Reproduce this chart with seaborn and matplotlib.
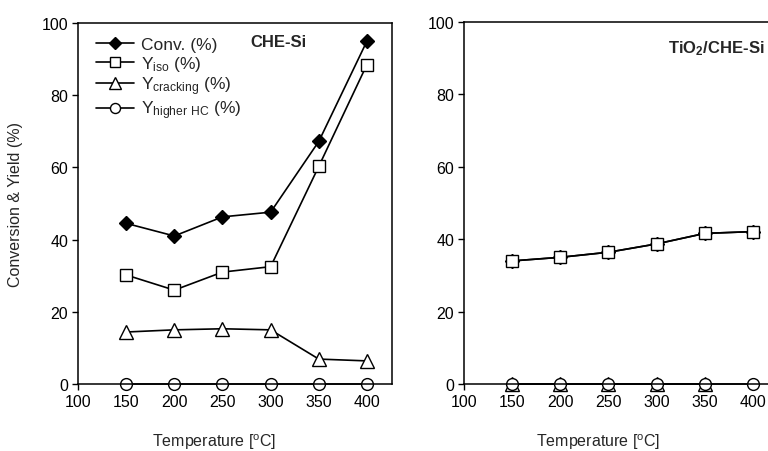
import numpy as np
import pandas as pd
import matplotlib
matplotlib.use("Agg")
import matplotlib.pyplot as plt
import seaborn as sns

temps = [150, 200, 250, 300, 350, 400]

# Left panel: CHE-Si
left_conv = [44.5, 41.0, 46.3, 47.6, 67.2, 95.0]
left_iso = [30.2, 26.0, 31.0, 32.5, 60.3, 88.5]
left_crack = [14.4, 15.0, 15.3, 15.0, 6.9, 6.4]
left_higher = [0, 0, 0, 0, 0, 0]

# Right panel: TiO2/CHE-Si
right_conv = [34.0, 35.0, 36.4, 38.7, 41.6, 42.1]
right_iso = [34.0, 35.0, 36.4, 38.7, 41.6, 42.1]
right_crack = [0, 0, 0, 0, 0, np.nan]
right_higher = [0, 0, 0, 0, 0, 0]

labels = ["Conv. (%)", r"$\mathregular{Y_{iso}}$ (%)",
          r"$\mathregular{Y_{cracking}}$ (%)", r"$\mathregular{Y_{higher\ HC}}$ (%)"]
xticks = [100, 150, 200, 250, 300, 350, 400]
yticks = [0, 20, 40, 60, 80, 100]

sns.set_theme(style="ticks")
plt.rcParams["font.family"] = ["Liberation Sans", "DejaVu Sans"]
plt.rcParams["mathtext.fontset"] = "custom"
plt.rcParams["mathtext.rm"] = "Liberation Sans"
plt.rcParams["mathtext.bf"] = "Liberation Sans:bold"

fig = plt.figure(figsize=(7.68, 4.52), dpi=100)
W, H = 768, 452
def ax_rect(x0, x1, ytop, ybot):
    return [x0 / W, (H - ybot) / H, (x1 - x0) / W, (ybot - ytop) / H]

axL = fig.add_axes(ax_rect(78, 392, 24, 385))
axR = fig.add_axes(ax_rect(464, 778, 23, 385))

styles = [
    dict(marker="D", markerfacecolor="black", markersize=7.5),
    dict(marker="s", markerfacecolor="white", markersize=9),
    dict(marker="^", markerfacecolor="white", markersize=10),
    dict(marker="o", markerfacecolor="white", markersize=8.5),
]

FS = 11.5

def draw(ax, series, title, tx, ty, legend=False):
    order = [2, 3, 0, 1]
    handles = {}
    for i in order:
        vals = series[i]
        df = pd.DataFrame({"T": temps, "v": vals})
        st = styles[i]
        sns.lineplot(data=df, x="T", y="v", ax=ax, color="black", linewidth=1.2,
                     marker=st["marker"], markersize=st["markersize"],
                     markerfacecolor=st["markerfacecolor"], markeredgecolor="black",
                     markeredgewidth=1.0, label=labels[i], legend=False, clip_on=False)
        handles[i] = ax.lines[-1]
    ax.set_xlim(100, 426)
    ax.set_ylim(0, 100)
    ax.set_xticks(xticks)
    ax.set_yticks(yticks)
    ax.tick_params(direction="out", length=4, width=1, labelsize=FS, color="black",
                   labelcolor="black", pad=3)
    for s in ax.spines.values():
        s.set_linewidth(1.1)
        s.set_color("black")
    ax.set_xlabel(r"Temperature [$\mathregular{^o}$C]", fontsize=FS)
    ax.set_ylabel("")
    ax.text(tx, ty, title, transform=ax.transAxes, fontsize=12, fontweight="bold",
            ha="left", va="center")
    if legend:
        leg = ax.legend([handles[i] for i in range(4)], labels, loc="upper left",
                        bbox_to_anchor=(0.012, 1.0), frameon=False, fontsize=12.5,
                        handlelength=2.2, handletextpad=0.4, labelspacing=0.1,
                        borderaxespad=0.4)
        for h in leg.legend_handles:
            h.set_markersize(h.get_markersize() * 0.85)

draw(axL, [left_conv, left_iso, left_crack, left_higher], "CHE-Si", 0.548, 0.950, legend=True)
draw(axR, [right_conv, right_iso, right_crack, right_higher],
     r"TiO$\mathbf{_2}$/CHE-Si", 0.65, 0.928)

axL.set_ylabel("Conversion & Yield (%)", fontsize=FS)
axL.yaxis.set_label_coords(-0.175, 0.5)
axL.xaxis.set_label_coords(0.433, -0.13)
axR.xaxis.set_label_coords(0.427, -0.13)

fig.savefig("out.png", dpi=100)
